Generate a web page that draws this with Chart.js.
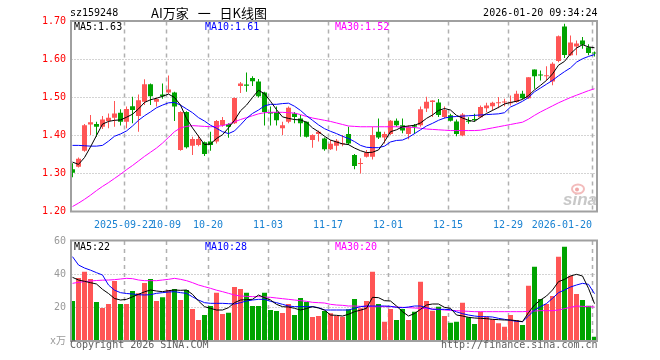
<!DOCTYPE html>
<html><head><meta charset="utf-8">
<script src="https://cdn.jsdelivr.net/npm/chart.js@4.4.1/dist/chart.umd.min.js"></script>
<style>
html,body{margin:0;padding:0;background:#fff;}
#wrap{position:relative;width:660px;height:360px;overflow:hidden;background:#fff;}
#wrap canvas{position:absolute;left:0;top:0;}
</style></head><body>
<div id="wrap"><canvas id="k" width="660" height="360"></canvas><canvas id="v" width="660" height="360"></canvas></div>
<script>
const code = 'sz159248';
const title = 'AI万家 一 日K线图';
const stamp = '2026-01-20 09:34:24';
const copyright = 'Copyright 2026 SINA.COM';
const site = 'http://finance.sina.com.cn';

const dates = [
'2025-09-09','2025-09-10','2025-09-11','2025-09-12','2025-09-15','2025-09-16','2025-09-17','2025-09-18','2025-09-19',
'2025-09-22','2025-09-23','2025-09-24','2025-09-25','2025-09-26','2025-09-29','2025-09-30',
'2025-10-09','2025-10-10','2025-10-13','2025-10-14','2025-10-15','2025-10-16','2025-10-17',
'2025-10-20','2025-10-21','2025-10-22','2025-10-23','2025-10-24','2025-10-27','2025-10-28','2025-10-29','2025-10-30','2025-10-31',
'2025-11-03','2025-11-04','2025-11-05','2025-11-06','2025-11-07','2025-11-10','2025-11-11','2025-11-12','2025-11-13','2025-11-14',
'2025-11-17','2025-11-18','2025-11-19','2025-11-20','2025-11-21','2025-11-24','2025-11-25','2025-11-26','2025-11-27','2025-11-28',
'2025-12-01','2025-12-02','2025-12-03','2025-12-04','2025-12-05','2025-12-08','2025-12-09','2025-12-10','2025-12-11','2025-12-12',
'2025-12-15','2025-12-16','2025-12-17','2025-12-18','2025-12-19','2025-12-22','2025-12-23','2025-12-24','2025-12-25','2025-12-26',
'2025-12-29','2025-12-30','2025-12-31','2026-01-05','2026-01-06','2026-01-07','2026-01-08','2026-01-09',
'2026-01-12','2026-01-13','2026-01-14','2026-01-15','2026-01-16','2026-01-19','2026-01-20'];

const tickDates = ['2025-09-22','2025-10-09','2025-10-20','2025-11-03','2025-11-17','2025-12-01','2025-12-15','2025-12-29','2026-01-20'];
const tickText  = ['2025-09-22','10-09','10-20','11-03','11-17','12-01','12-15','12-29','2026-01-20'];

const open = [1.311,1.318,1.360,1.429,1.430,1.423,1.438,1.447,1.460,1.436,
1.477,1.451,1.489,1.535,1.489,1.508,1.513,1.513,1.362,1.462,
1.373,1.375,1.382,1.384,1.384,1.427,1.430,1.432,1.530,1.534,
1.551,1.542,1.513,1.462,1.462,1.419,1.436,1.458,1.445,1.436,
1.388,1.404,1.392,1.364,1.373,1.377,1.404,1.349,1.325,1.344,
1.344,1.410,1.395,1.404,1.439,1.427,1.404,1.427,1.427,1.471,
1.488,1.487,1.449,1.453,1.437,1.400,1.438,1.443,1.448,1.472,
1.477,1.485,1.487,1.485,1.488,1.510,1.498,1.574,1.560,1.556,
1.542,1.596,1.687,1.611,1.634,1.650,1.632,1.618];
const high = [1.327,1.342,1.430,1.454,1.436,1.451,1.458,1.491,1.469,1.476,
1.502,1.508,1.548,1.537,1.500,1.537,1.558,1.515,1.464,1.464,
1.397,1.401,1.384,1.410,1.441,1.449,1.432,1.500,1.541,1.566,
1.556,1.549,1.515,1.476,1.476,1.436,1.476,1.462,1.454,1.436,
1.403,1.413,1.395,1.388,1.391,1.401,1.423,1.351,1.340,1.362,
1.423,1.445,1.410,1.441,1.445,1.445,1.427,1.430,1.476,1.502,
1.493,1.496,1.476,1.457,1.442,1.459,1.448,1.457,1.479,1.486,
1.489,1.501,1.497,1.505,1.518,1.518,1.553,1.574,1.571,1.582,
1.593,1.663,1.694,1.663,1.650,1.659,1.640,1.621];
const low = [1.290,1.316,1.357,1.401,1.397,1.417,1.419,1.423,1.426,1.419,
1.432,1.410,1.480,1.480,1.476,1.497,1.510,1.438,1.360,1.366,
1.349,1.372,1.346,1.360,1.379,1.423,1.394,1.430,1.512,1.515,
1.530,1.500,1.426,1.426,1.426,1.401,1.432,1.432,1.397,1.395,
1.368,1.384,1.360,1.362,1.360,1.372,1.375,1.311,1.300,1.342,
1.337,1.391,1.379,1.401,1.423,1.406,1.390,1.404,1.423,1.462,
1.449,1.449,1.445,1.437,1.398,1.398,1.431,1.437,1.446,1.461,
1.466,1.472,1.477,1.479,1.486,1.496,1.496,1.523,1.545,1.545,
1.532,1.593,1.604,1.609,1.611,1.628,1.611,1.608];
const close = [1.302,1.339,1.427,1.435,1.423,1.442,1.447,1.458,1.436,1.470,
1.467,1.493,1.535,1.503,1.496,1.503,1.521,1.476,1.462,1.369,
1.391,1.391,1.351,1.375,1.438,1.441,1.423,1.499,1.537,1.531,
1.543,1.503,1.462,1.458,1.440,1.427,1.473,1.449,1.432,1.397,
1.401,1.410,1.364,1.378,1.386,1.378,1.379,1.320,1.327,1.355,
1.401,1.395,1.404,1.439,1.427,1.413,1.423,1.423,1.469,1.489,
1.492,1.454,1.467,1.439,1.404,1.455,1.436,1.441,1.475,1.479,
1.486,1.487,1.488,1.487,1.510,1.498,1.553,1.556,1.558,1.558,
1.589,1.661,1.612,1.645,1.642,1.639,1.617,1.616];

const ma5 = [1.330,1.324,1.342,1.370,1.400,1.430,1.437,1.440,1.441,1.448,
1.456,1.470,1.487,1.494,1.498,1.503,1.509,1.500,1.480,1.445,
1.420,1.398,1.376,1.378,1.392,1.402,1.420,1.440,1.465,1.480,
1.500,1.519,1.510,1.490,1.468,1.449,1.445,1.442,1.441,1.435,
1.420,1.410,1.398,1.388,1.383,1.378,1.376,1.367,1.360,1.355,
1.356,1.362,1.384,1.410,1.415,1.423,1.425,1.427,1.433,1.445,
1.454,1.466,1.471,1.467,1.453,1.446,1.440,1.437,1.448,1.458,
1.466,1.474,1.483,1.487,1.490,1.495,1.505,1.520,1.532,1.545,
1.562,1.585,1.595,1.615,1.630,1.639,1.633,1.631];
const ma10 = [1.374,1.374,1.373,1.372,1.372,1.374,1.385,1.398,1.404,1.412,
1.425,1.440,1.452,1.462,1.473,1.480,1.486,1.487,1.480,1.470,
1.460,1.447,1.438,1.427,1.419,1.410,1.405,1.412,1.428,1.445,
1.458,1.467,1.478,1.482,1.482,1.484,1.485,1.477,1.466,1.452,
1.440,1.428,1.418,1.411,1.405,1.398,1.392,1.384,1.374,1.369,
1.368,1.368,1.372,1.383,1.387,1.388,1.395,1.405,1.415,1.425,
1.432,1.440,1.446,1.449,1.450,1.451,1.452,1.453,1.454,1.455,
1.456,1.457,1.460,1.475,1.482,1.490,1.500,1.515,1.525,1.535,
1.545,1.557,1.568,1.578,1.593,1.602,1.608,1.613];
const ma30 = [1.213,1.222,1.232,1.243,1.255,1.266,1.276,1.287,1.298,1.310,
1.321,1.333,1.345,1.356,1.367,1.380,1.395,1.410,1.420,1.424,
1.426,1.425,1.424,1.423,1.424,1.426,1.430,1.436,1.442,1.447,
1.452,1.457,1.460,1.461,1.461,1.461,1.460,1.459,1.455,1.450,
1.446,1.443,1.440,1.437,1.433,1.429,1.425,1.424,1.423,1.423,
1.423,1.423,1.423,1.423,1.423,1.422,1.422,1.421,1.419,1.417,
1.416,1.415,1.414,1.413,1.413,1.413,1.413,1.413,1.414,1.417,
1.420,1.423,1.426,1.429,1.432,1.435,1.443,1.453,1.462,1.470,
1.478,1.486,1.493,1.500,1.506,1.512,1.518,1.523];

const volume = [24.0,37.8,41.6,37.2,23.4,19.8,22.2,36.0,22.2,22.2,
30.0,28.6,34.8,37.2,24.0,26.2,30.6,31.2,24.6,30.6,
19.2,12.6,15.6,21.0,29.0,16.2,17.0,32.4,31.2,29.0,
21.0,21.0,29.0,18.6,18.0,16.8,22.2,15.6,25.8,23.4,
14.4,15.0,18.0,16.6,15.0,14.6,19.0,25.2,19.6,24.0,
41.6,22.2,11.6,19.2,12.6,19.2,12.6,17.6,35.6,24.0,
18.2,20.6,15.0,11.0,11.6,23.0,14.2,10.2,17.6,14.6,
13.0,10.6,8.6,15.6,12.6,9.6,33.2,44.6,25.2,22.2,
27.0,50.6,56.6,39.2,28.2,24.6,21.2,2.6];
const vma5 = [38.2,36.6,35.8,35.0,34.2,31.0,28.5,25.5,24.6,25.0,
26.5,28.0,29.5,30.6,30.0,29.6,30.2,30.6,30.4,30.6,
28.0,24.0,20.6,19.6,18.6,18.6,20.0,23.0,24.6,24.8,
25.0,27.6,26.0,24.6,22.0,20.6,20.4,19.6,18.6,19.5,
20.6,19.8,18.6,15.6,15.4,15.0,16.0,17.6,18.5,19.6,
26.2,26.0,24.2,24.0,21.0,17.6,15.0,16.5,19.0,21.6,
22.2,22.2,20.2,19.6,15.6,15.0,14.2,13.8,13.6,13.4,
13.0,12.8,12.6,12.6,12.2,11.6,17.0,21.6,24.6,27.0,
30.6,35.6,37.0,39.0,40.0,39.0,31.6,22.4];
const vma10 = [50.6,45.6,43.8,42.5,41.0,39.6,33.6,30.5,29.0,28.5,
28.2,27.8,27.6,27.8,28.6,29.0,29.4,29.6,29.0,28.6,
26.5,24.6,23.0,22.6,22.6,22.6,22.4,22.2,23.0,24.0,
24.6,25.0,25.0,23.8,23.0,22.0,21.0,20.6,20.6,20.6,
20.6,20.0,18.6,18.6,18.6,18.6,18.6,19.6,20.6,21.0,
21.0,21.0,21.0,20.8,20.2,20.0,20.4,21.0,21.0,20.0,
19.0,19.0,19.0,18.8,17.5,16.4,15.6,15.0,14.6,14.6,
14.4,13.6,13.0,12.4,11.8,11.6,15.0,18.6,20.6,22.5,
25.6,29.0,30.6,32.4,33.6,34.6,34.0,28.4];
const vma30 = [34.6,35.2,35.6,36.0,36.3,36.5,36.6,36.8,37.2,37.6,
37.4,36.6,36.2,36.2,36.2,36.6,37.0,37.6,37.0,36.2,
35.0,33.6,32.6,31.6,30.5,29.6,28.6,27.6,27.0,26.8,
26.6,26.6,26.4,26.2,25.8,25.4,25.0,24.6,24.2,23.8,
23.2,23.0,22.8,22.0,21.6,21.4,21.0,21.0,20.8,20.8,
20.6,20.6,20.6,20.6,20.4,20.2,20.0,19.8,19.6,19.4,
19.2,19.0,18.6,18.4,18.2,18.0,17.8,17.6,17.6,17.6,
17.6,17.6,17.6,17.6,17.6,17.6,17.8,18.0,18.2,18.2,
18.2,18.6,19.4,20.2,21.0,20.8,20.6,20.4];

const priceRange = [1.20, 1.70], priceStep = 0.10;
const volRange = [0, 60], volStep = 20, volUnit = 'x万';

const RED = '#ff5555', GREEN = '#00a300';
const MONO = "'DejaVu Sans Mono', 'Noto Sans CJK SC', monospace";
const colorAt = i => (close[i] >= open[i] ? RED : GREEN);
const last = a => a[a.length - 1];

function makeDeco(cfg) {
  return {
    id: 'deco',
    beforeDatasetsDraw(chart) {
      const { ctx, chartArea: a, scales: { x, y } } = chart;
      ctx.save();
      ctx.lineWidth = 1; ctx.strokeStyle = '#a8a8a8'; ctx.setLineDash([1, 2]);
      y.ticks.forEach(t => {
        if (t.value <= y.min + 1e-9 || t.value >= y.max - 1e-9) return;
        const py = Math.floor(y.getPixelForValue(t.value)) + 0.5;
        ctx.beginPath(); ctx.moveTo(a.left + 2, py); ctx.lineTo(a.right, py); ctx.stroke();
      });
      ctx.setLineDash([4, 4]); ctx.lineWidth = 1.5; ctx.strokeStyle = '#b0b0b0';
      tickDates.forEach(d => {
        const px = Math.round(x.getPixelForValue(dates.indexOf(d)) - 2.5) + 0.5;
        ctx.beginPath(); ctx.moveTo(px, a.top); ctx.lineTo(px, a.bottom); ctx.stroke();
      });
      ctx.setLineDash([]);
      if (cfg.watermark) {
        ctx.fillStyle = '#c8c8c8';
        ctx.font = "italic bold 17px 'Liberation Sans', Arial, sans-serif";
        ctx.textAlign = 'right'; ctx.textBaseline = 'alphabetic';
        ctx.fillText('sina', a.right - 0.5, 205);
        ctx.strokeStyle = '#f3bcbc'; ctx.lineWidth = 2;
        ctx.beginPath(); ctx.ellipse(578, 189, 6, 4.5, 0, 0, Math.PI * 2); ctx.stroke();
        ctx.fillStyle = '#f0a8a8';
        ctx.beginPath(); ctx.arc(577, 189.5, 2, 0, Math.PI * 2); ctx.fill();
      }
      ctx.restore();
    },
    afterDatasetsDraw(chart) {
      const { ctx, chartArea: a, scales: { x } } = chart;
      ctx.save();
      ctx.strokeStyle = '#a0a0a0'; ctx.lineWidth = 2; ctx.setLineDash([]);
      ctx.strokeRect(a.left + 1.5, a.top - 0.5, a.right - a.left - 2, a.bottom - a.top + 0.5);
      ctx.font = '10px ' + MONO; ctx.textBaseline = 'middle'; ctx.textAlign = 'left';
      cfg.legend.forEach(([t, c, lx]) => { ctx.fillStyle = c; ctx.fillText(t, lx, a.top + cfg.legendDy); });
      if (cfg.xLabels) {
        ctx.fillStyle = '#1a82d2';
        tickDates.forEach((d, k) => {
          const px = Math.round(x.getPixelForValue(dates.indexOf(d)) - 2.5);
          if (k === tickDates.length - 1) { ctx.textAlign = 'right'; ctx.fillText(tickText[k], px, 225.5); }
          else { ctx.textAlign = 'center'; ctx.fillText(tickText[k], px, 225.5); }
        });
        ctx.fillStyle = '#000'; ctx.textAlign = 'left';
        ctx.fillText(code, 70, 13.5);
        ctx.textAlign = 'right';
        ctx.fillText(stamp, a.right, 13.5);
        ctx.textAlign = 'left';
        ctx.font = "13px 'Noto Sans CJK SC', sans-serif";
        if ('wordSpacing' in ctx) ctx.wordSpacing = '6px';
        ctx.fillText(title, 151, 13.5);
      }
      if (cfg.footer) {
        ctx.fillStyle = '#606060';
        ctx.textAlign = 'left'; ctx.fillText(copyright, 70, 345.5);
        ctx.textAlign = 'right'; ctx.fillText(site, a.right, 345.5);
      }
      ctx.restore();
    }
  };
}

const lineDs = (data, color) => ({ type: 'line', data, borderColor: color, borderWidth: 1, pointRadius: 0, tension: 0, fill: false, order: 0 });
const yAxis = (range, step, color, cb) => ({
  type: 'linear', min: range[0], max: range[1],
  grid: { display: false, drawTicks: false }, border: { display: false },
  ticks: { stepSize: step, color, padding: 3.5, font: { family: MONO, size: 10 }, callback: cb },
  afterFit: s => { s.width = 69.5; }
});
const xAxis = { type: 'category', display: false, offset: true, grid: { display: false } };
const common = { responsive: false, animation: false, devicePixelRatio: 1, events: [],
  plugins: { legend: { display: false }, tooltip: { enabled: false } } };

new Chart(document.getElementById('k'), {
  type: 'bar',
  data: { labels: dates, datasets: [
    lineDs(ma5, '#000000'), lineDs(ma10, '#0000ff'), lineDs(ma30, '#ff00ff'),
    { data: dates.map((d, i) => [open[i], close[i]]), backgroundColor: c => colorAt(c.dataIndex),
      barThickness: 5, minBarLength: 1, grouped: false, inflateAmount: 0, borderWidth: 0, order: 1 },
    { data: dates.map((d, i) => [low[i], high[i]]), backgroundColor: c => colorAt(c.dataIndex),
      barThickness: 1, grouped: false, inflateAmount: 0, borderWidth: 0, order: 2 }
  ] },
  options: Object.assign({}, common, {
    layout: { padding: { left: 0, top: 21.5, right: 62.5, bottom: 148.5 } },
    scales: { x: xAxis, y: yAxis(priceRange, priceStep, '#ff0000', v => Number(v).toFixed(2)) }
  }),
  plugins: [makeDeco({ watermark: true, xLabels: true, legendDy: 5.5,
    legend: [['MA5:' + last(ma5).toFixed(2), '#000000', 74], ['MA10:' + last(ma10).toFixed(2), '#0000ff', 205], ['MA30:' + last(ma30).toFixed(2), '#ff00ff', 335]] })]
});

new Chart(document.getElementById('v'), {
  type: 'bar',
  data: { labels: dates, datasets: [
    lineDs(vma5, '#000000'), lineDs(vma10, '#0000ff'), lineDs(vma30, '#ff00ff'),
    { data: volume, backgroundColor: c => colorAt(c.dataIndex), barThickness: 5, grouped: false, inflateAmount: 0, borderWidth: 0, order: 1 }
  ] },
  options: Object.assign({}, common, {
    layout: { padding: { left: 0, top: 241, right: 62.5, bottom: 19 } },
    scales: { x: xAxis, y: yAxis(volRange, volStep, '#999999', v => (v === 0 ? volUnit : String(v))) }
  }),
  plugins: [makeDeco({ watermark: false, xLabels: false, footer: true, legendDy: 6,
    legend: [['MA5:' + Math.round(last(vma5)), '#000000', 74], ['MA10:' + Math.round(last(vma10)), '#0000ff', 205], ['MA30:' + Math.round(last(vma30)), '#ff00ff', 335]] })]
});
</script>
</body></html>
